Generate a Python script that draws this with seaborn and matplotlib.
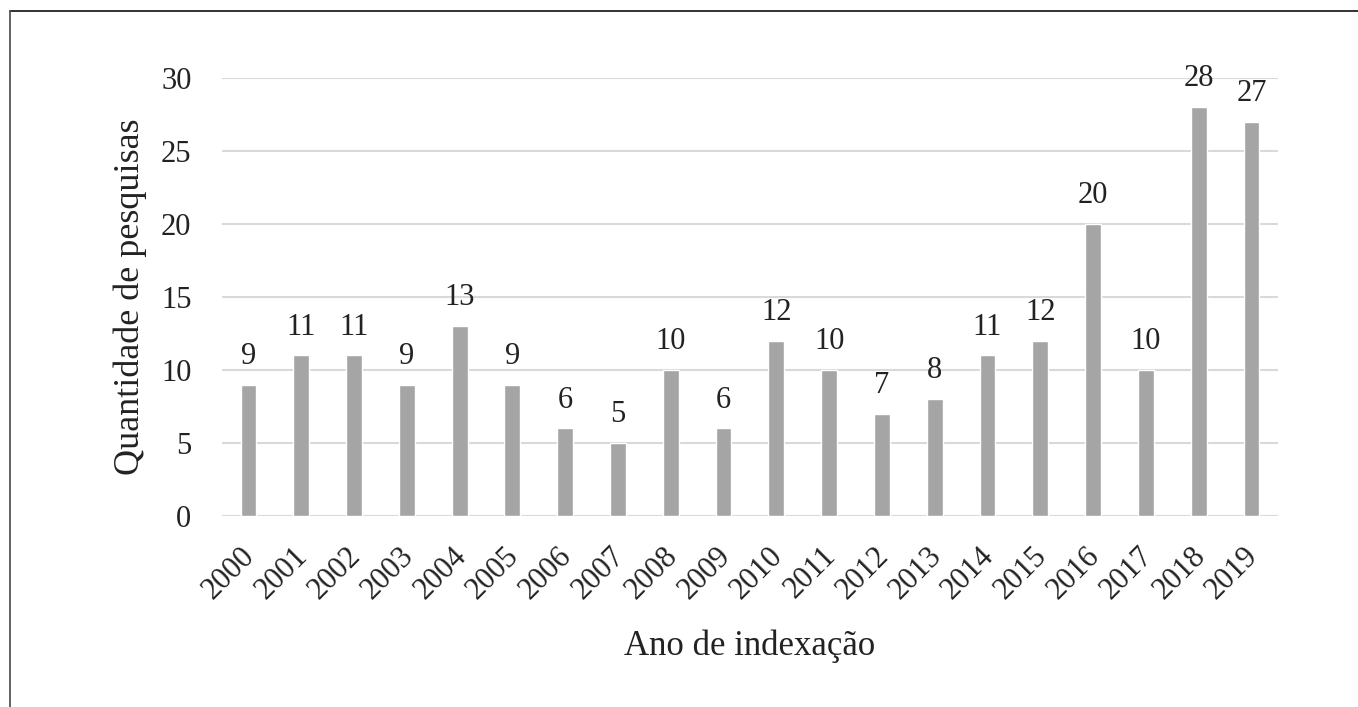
import matplotlib
matplotlib.use("Agg")
import matplotlib.pyplot as plt
import matplotlib.transforms as mtransforms
import seaborn as sns
import pandas as pd
from matplotlib.lines import Line2D

years = [str(y) for y in range(2000, 2020)]
counts = [9, 11, 11, 9, 13, 9, 6, 5, 10, 6, 12, 10, 7, 8, 11, 12, 20, 10, 28, 27]
yticks = [0, 5, 10, 15, 20, 25, 30]

sns.set_theme(style="white")
plt.rcParams['font.family'] = ['Liberation Serif', 'DejaVu Serif']

df = pd.DataFrame({"ano": years, "qtd": counts})

fig = plt.figure(figsize=(13.58, 7.07), dpi=100)
ax = fig.add_axes([0.1635, 0.270, 0.7775, 0.6197])

for t in yticks:
    ax.axhline(t, color="#D9D9D9", lw=1.5, zorder=0)

sns.barplot(data=df, x="ano", y="qtd", color="#A5A5A5", width=0.3,
            saturation=1, ax=ax, zorder=2)

ax.set_xlim(-0.5, 19.5)
ax.set_ylim(0, 30)
ax.set_yticks(yticks)
ax.set_yticklabels([str(t) for t in yticks], fontsize=22, color="#222222")
ax.tick_params(axis="y", length=0, pad=22)
ax.tick_params(axis="x", length=0, pad=18)
offset = mtransforms.ScaledTranslation(-8 / 100, 0, fig.dpi_scale_trans)
for lab in ax.get_xticklabels():
    lab.set_rotation(45)
    lab.set_ha("right")
    lab.set_rotation_mode("anchor")
    lab.set_fontsize(22)
    lab.set_color("#222222")
    lab.set_transform(lab.get_transform() + offset)

for c in ax.containers:
    ax.bar_label(c, labels=[str(v) for v in counts], padding=10, fontsize=22, color="#222222")

for s in ax.spines.values():
    s.set_visible(False)

ax.set_xlabel("Ano de indexação", fontsize=25, color="#222222", labelpad=18)
ax.set_ylabel("Quantidade de pesquisas", fontsize=26, color="#222222", labelpad=10)

fig.add_artist(Line2D([0.007, 1.0], [0.9844, 0.9844], transform=fig.transFigure, color="#222222", lw=1.3))
fig.add_artist(Line2D([0.007, 0.007], [0.0, 0.9844], transform=fig.transFigure, color="#555555", lw=1.3))

fig.savefig("out.png", dpi=100, facecolor="white")
